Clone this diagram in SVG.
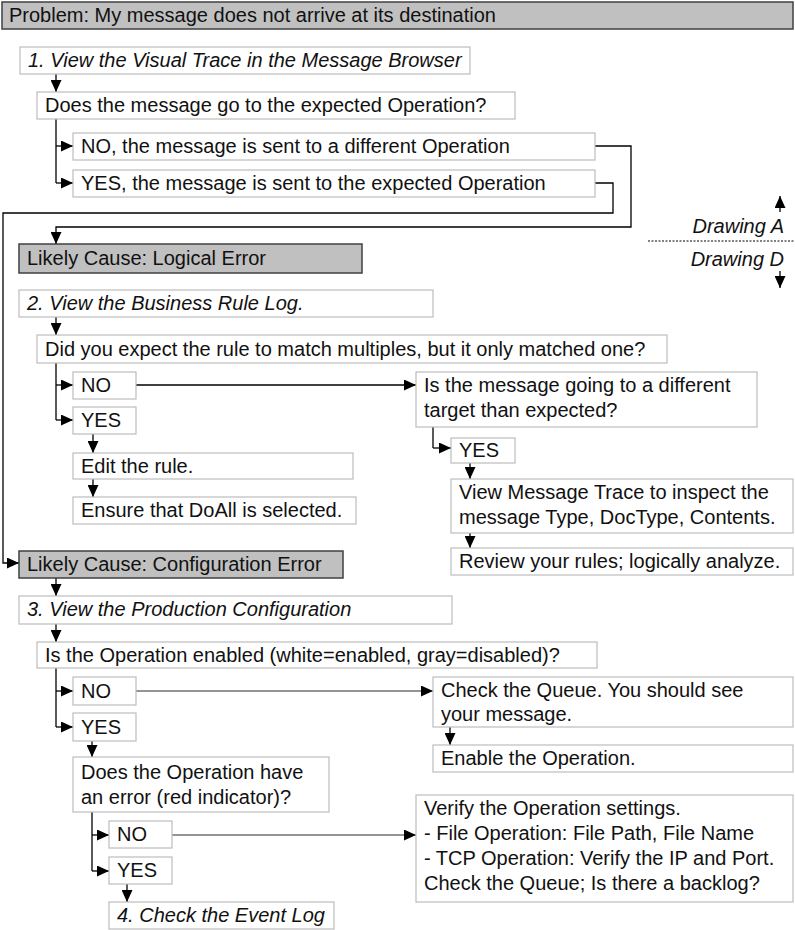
<svg xmlns="http://www.w3.org/2000/svg" width="795" height="930" viewBox="0 0 795 930">
<defs>
<marker id="ah" viewBox="0 0 12 11" refX="12" refY="5.5" markerWidth="12" markerHeight="11" markerUnits="userSpaceOnUse" orient="auto">
<path d="M0,0 L12,5.5 L0,11 z" fill="#000"/>
</marker>
<style>
.b{fill:#fff;stroke:#bdbdbd;stroke-width:1.2}
.g{fill:#c0c0c0;stroke:#404040;stroke-width:1.5}
text{font-family:"Liberation Sans",Arial,sans-serif;font-size:20px;fill:#111}
.i{font-style:italic}
.c{fill:none;stroke:#000;stroke-width:1.3}
.cg{fill:none;stroke:#707070;stroke-width:1.5}
.a{marker-end:url(#ah)}
</style>
</defs>
<rect width="795" height="930" fill="#fff"/>
<g id="connectors">
<path class="c a" d="M56,74 V92"/>
<path class="c" d="M56,119 V183"/>
<path class="c a" d="M56,146 H73"/>
<path class="c a" d="M56,183 H73"/>
<path class="c a" d="M595,146 H631 V227 H56 V244"/>
<path class="c a" d="M595,183 H613 V213 H3 V563 H19"/>
<path class="c a" d="M56,317 V335"/>
<path class="c" d="M56,363 V420"/>
<path class="c a" d="M56,385 H73"/>
<path class="c a" d="M56,420 H73"/>
<path class="c a" d="M136,385 H416"/>
<path class="c a" d="M93,434 V453"/>
<path class="c a" d="M93,479 V497"/>
<path class="c" d="M433,427 V448"/>
<path class="c a" d="M433,448 H451"/>
<path class="c a" d="M470,463 V479"/>
<path class="c a" d="M470,533 V548"/>
<path class="c a" d="M56,578 V596"/>
<path class="c a" d="M56,624 V642"/>
<path class="c" d="M56,668 V727"/>
<path class="c a" d="M56,691 H73"/>
<path class="c a" d="M56,727 H73"/>
<path class="cg a" d="M136,691 H433"/>
<path class="c a" d="M92,741 V757"/>
<path class="c" d="M92,812 V871"/>
<path class="c a" d="M92,835 H109"/>
<path class="c a" d="M92,871 H109"/>
<path class="cg a" d="M172,835 H416"/>
<path class="c a" d="M127,884 V902"/>
<path class="c a" d="M450,727 V745"/>
</g>
<g id="drawing-marker">
<path class="c a" d="M780,212 V196"/>
<text x="784" y="233" text-anchor="end" class="i">Drawing A</text>
<line x1="648" y1="241" x2="795" y2="241" stroke="#000" stroke-width="1" stroke-dasharray="2,1.5"/>
<text x="784" y="266" text-anchor="end" class="i">Drawing D</text>
<path class="c a" d="M780,271 V288"/>
</g>
<g id="problem"><rect class="g" x="2" y="2" width="791" height="27"/><text x="9" y="22">Problem: My message does not arrive at its destination</text></g>
<g id="step1"><rect class="b" x="20" y="47" width="450" height="27"/><text x="28" y="67" class="i">1. View the Visual Trace in the Message Browser</text></g>
<g id="q1"><rect class="b" x="37" y="92" width="478" height="27"/><text x="45" y="112">Does the message go to the expected Operation?</text></g>
<g id="q1-no"><rect class="b" x="73" y="133" width="522" height="27"/><text x="81" y="153">NO, the message is sent to a different Operation</text></g>
<g id="q1-yes"><rect class="b" x="73" y="170" width="522" height="27"/><text x="81" y="190">YES, the message is sent to the expected Operation</text></g>
<g id="cause-logical"><rect class="g" x="19" y="244" width="343" height="29"/><text x="27" y="265">Likely Cause: Logical Error</text></g>
<g id="step2"><rect class="b" x="19" y="290" width="414" height="27"/><text x="27" y="310" class="i">2. View the Business Rule Log.</text></g>
<g id="q2"><rect class="b" x="37" y="335" width="630" height="28"/><text x="45" y="356">Did you expect the rule to match multiples, but it only matched one?</text></g>
<g id="q2-no"><rect class="b" x="73" y="372" width="63" height="27"/><text x="81" y="392">NO</text></g>
<g id="q2-yes"><rect class="b" x="73" y="407" width="63" height="27"/><text x="81" y="427">YES</text></g>
<g id="edit-rule"><rect class="b" x="73" y="453" width="280" height="26"/><text x="81" y="473">Edit the rule.</text></g>
<g id="doall"><rect class="b" x="73" y="497" width="283" height="27"/><text x="81" y="517">Ensure that DoAll is selected.</text></g>
<g id="q3"><rect class="b" x="416" y="372" width="341" height="55"/><text x="424" y="392">Is the message going to a different</text><text x="424" y="417">target than expected?</text></g>
<g id="q3-yes"><rect class="b" x="451" y="438" width="64" height="25"/><text x="459" y="457">YES</text></g>
<g id="view-trace"><rect class="b" x="451" y="479" width="342" height="54"/><text x="459" y="499">View Message Trace to inspect the</text><text x="459" y="524">message Type, DocType, Contents.</text></g>
<g id="review"><rect class="b" x="451" y="548" width="342" height="27"/><text x="459" y="568">Review your rules; logically analyze.</text></g>
<g id="cause-config"><rect class="g" x="19" y="551" width="324" height="27"/><text x="27" y="571">Likely Cause: Configuration Error</text></g>
<g id="step3"><rect class="b" x="19" y="596" width="433" height="28"/><text x="27" y="616" class="i">3. View the Production Configuration</text></g>
<g id="q4"><rect class="b" x="37" y="642" width="560" height="26"/><text x="45" y="662">Is the Operation enabled (white=enabled, gray=disabled)?</text></g>
<g id="q4-no"><rect class="b" x="73" y="677" width="63" height="28"/><text x="81" y="698">NO</text></g>
<g id="q4-yes"><rect class="b" x="73" y="713" width="63" height="28"/><text x="81" y="734">YES</text></g>
<g id="check-queue"><rect class="b" x="433" y="677" width="360" height="50"/><text x="441" y="697">Check the Queue. You should see</text><text x="441" y="721">your message.</text></g>
<g id="enable-op"><rect class="b" x="433" y="745" width="360" height="27"/><text x="441" y="765">Enable the Operation.</text></g>
<g id="q5"><rect class="b" x="73" y="757" width="256" height="55"/><text x="81" y="779">Does the Operation have</text><text x="81" y="804">an error (red indicator)?</text></g>
<g id="q5-no"><rect class="b" x="109" y="821" width="63" height="27"/><text x="117" y="841">NO</text></g>
<g id="q5-yes"><rect class="b" x="109" y="857" width="63" height="27"/><text x="117" y="877">YES</text></g>
<g id="verify"><rect class="b" x="416" y="795" width="377" height="107"/><text x="424" y="815">Verify the Operation settings.</text><text x="424" y="840">- File Operation: File Path, File Name</text><text x="424" y="865">- TCP Operation: Verify the IP and Port.</text><text x="424" y="890">Check the Queue; Is there a backlog?</text></g>
<g id="step4"><rect class="b" x="109" y="902" width="225" height="27"/><text x="117" y="922" class="i">4. Check the Event Log</text></g>
</svg>
